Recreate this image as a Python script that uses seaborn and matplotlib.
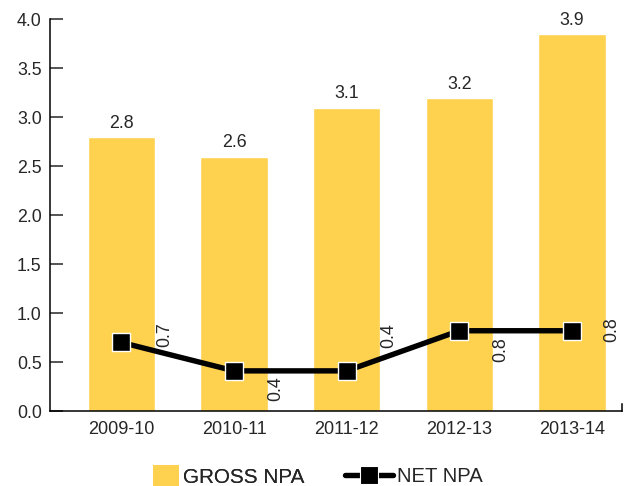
import matplotlib
matplotlib.use("Agg")
import matplotlib.pyplot as plt
import seaborn as sns
import pandas as pd
from matplotlib.patches import Patch
from matplotlib.lines import Line2D

# ---- data ----
years = ["2009-10", "2010-11", "2011-12", "2012-13", "2013-14"]
gross_npa = [2.8, 2.6, 3.1, 3.2, 3.85]
gross_labels = ["2.8", "2.6", "3.1", "3.2", "3.9"]
net_npa = [0.7, 0.41, 0.41, 0.82, 0.82]
net_labels = ["0.7", "0.4", "0.4", "0.8", "0.8"]
y_ticks = [0.0, 0.5, 1.0, 1.5, 2.0, 2.5, 3.0, 3.5, 4.0]

# ---- style ----
BAR_COLOR = "#FED14F"
sns.set_style("ticks")
plt.rcParams["font.family"] = ["Liberation Sans", "DejaVu Sans"]

df = pd.DataFrame({"year": years, "gross": gross_npa, "net": net_npa})

fig = plt.figure(figsize=(6.32, 4.86), dpi=100)
ax = fig.add_axes([50 / 632, 1 - 411 / 486, (622 - 50) / 632, (411 - 19.5) / 486])

sns.barplot(data=df, x="year", y="gross", color=BAR_COLOR, saturation=1,
            width=0.6, ax=ax, errorbar=None, zorder=1)
ax.bar_label(ax.containers[0], labels=gross_labels, padding=3.8, fontsize=12.8)

sns.pointplot(data=df, x="year", y="net", color="black", markers="s",
              errorbar=None, ax=ax, linewidth=3.9, markersize=13.5,
              markeredgecolor="white", markeredgewidth=1.0, zorder=5)

# net value labels (rotated)
label_offsets = [(31.3, 5.8), (30.2, -13.0), (30.2, 25.2), (30.2, -13.3), (28.8, 0.7)]
for i, (val, lab) in enumerate(zip(net_npa, net_labels)):
    ax.annotate(lab, xy=(i, val), xytext=label_offsets[i], textcoords="offset points",
                rotation=90, ha="center", va="center", fontsize=12.8)

ax.set_xlim(-0.635, 4.445)
ax.set_ylim(0, 4.0)
ax.set_yticks(y_ticks)
ax.set_yticklabels([f"{t:.1f}" for t in y_ticks])
ax.set_xlabel("")
ax.set_ylabel("")

for s in ["left", "bottom", "right"]:
    ax.spines[s].set_linewidth(1.1)
    ax.spines[s].set_color("black")
ax.spines["top"].set_visible(False)
ax.spines["right"].set_visible(True)
ax.spines["right"].set_bounds(0, 0.07)

ax.tick_params(axis="y", direction="in", length=9.4, width=1.1, pad=6,
               labelsize=12.8, right=False)
ax.tick_params(axis="x", length=0, pad=7, labelsize=13)

# ---- legends ----
leg1 = fig.legend(handles=[Patch(facecolor=BAR_COLOR, edgecolor="none")],
                  labels=["GROSS NPA"], loc="center left",
                  bbox_to_anchor=(153 / 632, 0.02), frameon=False, fontsize=14.9,
                  handlelength=1.26, handleheight=1.26, handletextpad=0.2,
                  borderpad=0, borderaxespad=0)
leg2 = fig.legend(handles=[Line2D([], [], color="black", lw=3.9, marker="s",
                                  markersize=12.5, markeredgecolor="white",
                                  markeredgewidth=0.8)],
                  labels=["NET NPA"], loc="center left",
                  bbox_to_anchor=(345 / 632, 0.02), frameon=False, fontsize=14.6,
                  handlelength=2.36, handletextpad=0.2, numpoints=1,
                  borderpad=0, borderaxespad=0)
fig.add_artist(leg1)

fig.savefig("out.png", dpi=100)
